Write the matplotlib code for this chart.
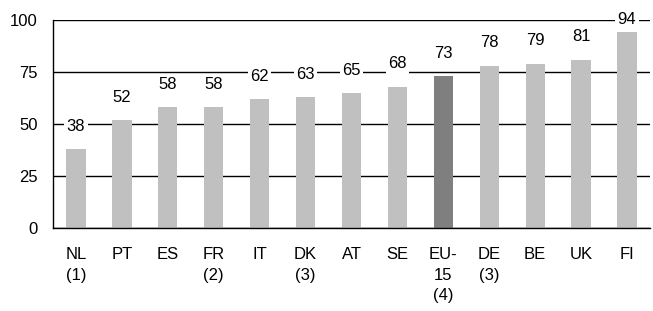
import matplotlib
matplotlib.use("Agg")
import matplotlib.pyplot as plt

plt.rcParams['font.family'] = ['Liberation Sans', 'DejaVu Sans']

countries = ["NL\n(1)", "PT", "ES", "FR\n(2)", "IT", "DK\n(3)", "AT", "SE",
             "EU-\n15\n(4)", "DE\n(3)", "BE", "UK", "FI"]
values = [38, 52, 58, 58, 62, 63, 65, 68, 73, 78, 79, 81, 94]
highlight = "EU-\n15\n(4)"

colors = ['#7f7f7f' if c == highlight else '#c0c0c0' for c in countries]

fig = plt.figure(figsize=(6.53, 3.11), dpi=100)
ax = fig.add_axes([53 / 653, 1 - 228 / 311, 597 / 653, 208 / 311])

x = list(range(len(countries)))
ax.bar(x, values, width=0.42, color=colors, zorder=2)

bbox = dict(boxstyle='square,pad=0.15', fc='white', ec='none')
for xi, v in zip(x, values):
    if v > 90:
        # label pushed down to sit on the top edge of the plot
        ax.text(xi, 100, str(v), ha='center', va='center', fontsize=12,
                zorder=4, bbox=bbox)
    else:
        ax.annotate(str(v), (xi, v), xytext=(0, 11), textcoords='offset points',
                    ha='center', va='bottom', fontsize=12, zorder=4, bbox=bbox)

ax.set_ylim(0, 100)
ax.set_xlim(-0.5, len(countries) - 0.5)
ax.set_yticks([0, 25, 50, 75, 100])
ax.set_xticks(x)
ax.set_xticklabels(countries, fontsize=12, linespacing=1.45)
ax.tick_params(axis='y', length=0, pad=11, labelsize=12)
ax.tick_params(axis='x', length=0, pad=14)

ax.yaxis.grid(True, color='black', linewidth=1)
ax.set_axisbelow(True)
for s in ['top', 'right']:
    ax.spines[s].set_visible(False)
ax.spines['left'].set_linewidth(1)
ax.spines['bottom'].set_linewidth(1)

fig.savefig("out.png", dpi=100)
